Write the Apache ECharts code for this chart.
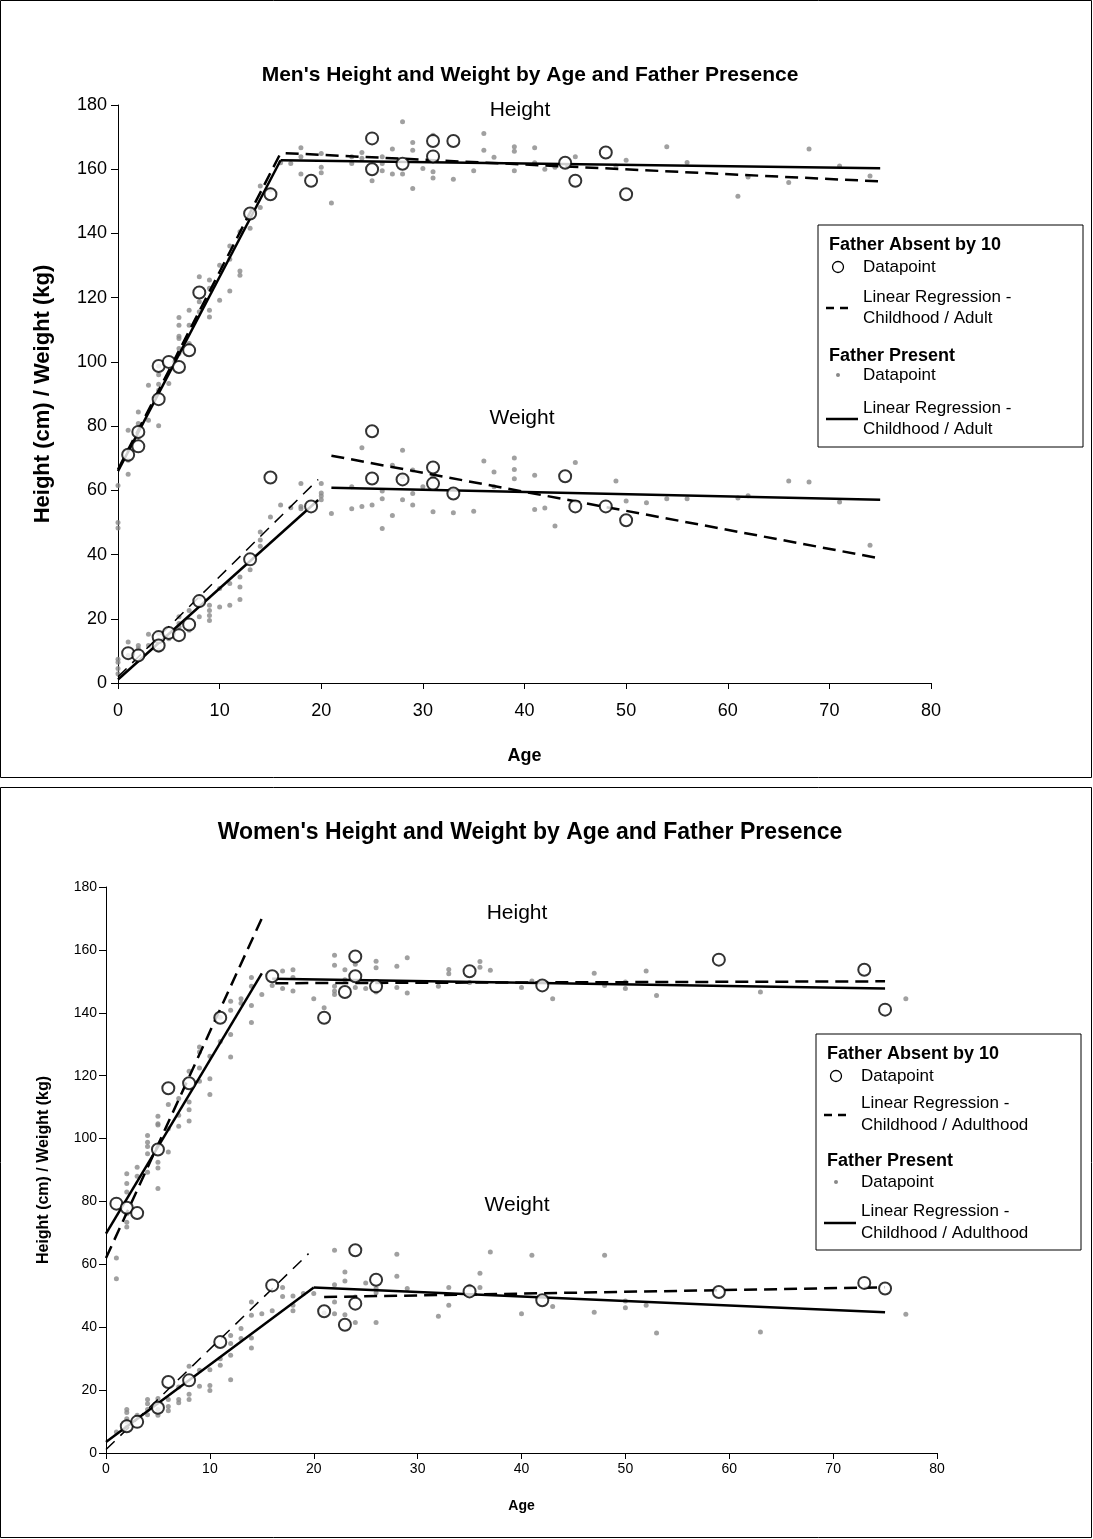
<!DOCTYPE html>
<html><head><meta charset="utf-8">
<script src="https://cdn.jsdelivr.net/npm/echarts@6/dist/echarts.min.js"></script>
<style>html,body{margin:0;padding:0;background:#fff}#c{width:1093px;height:1539px}</style>
</head><body><div id="c"></div>
<script>
// ---------- tick labels ----------
const xTicks = [0, 10, 20, 30, 40, 50, 60, 70, 80];
const yTicks = [0, 20, 40, 60, 80, 100, 120, 140, 160, 180];

// ---------- MEN ----------
const menHeightAbsent = [[1,71.1],[2,78.2],[2,73.7],[4,88.4],[4,98.7],[5,100],[6,98.4],[7,103.6],[8,121.6],[13,146.2],[15,152.2],[19,156.4],[25,169.6],[25,160],[28,161.7],[31,168.8],[31,164],[33,168.8],[44,162],[45,156.4],[48,165.2],[50,152.2]];
const menWeightAbsent = [[1,9.3],[2,8.6],[4,14.3],[4,11.7],[5,15.6],[6,14.9],[7,18.2],[8,25.5],[13,38.5],[15,64],[19,55],[25,78.4],[25,63.7],[28,63.4],[31,67.1],[31,62.1],[33,59],[44,64.4],[45,55],[48,55],[50,50.7]];
const menHeightPresent = [[0,61.5],[0,50],[0,48.3],[1,69.4],[1,65],[1,78.7],[2,84.4],[2,80.8],[2,76.6],[3,81.8],[3,92.7],[4,98.7],[4,93],[4,96],[4,91.2],[4,80.1],[5,93.3],[6,113.8],[6,111.4],[6,108],[6,107.3],[6,104.2],[6,102.6],[7,116.1],[7,111.4],[7,105.7],[8,126.5],[8,118.7],[8,115.6],[9,125.5],[9,122.9],[9,116.1],[9,114],[10,119.2],[10,130.1],[11,136.1],[11,132],[11,122.1],[12,140.5],[12,128.3],[12,127],[13,141.6],[14,154.8],[14,148.1],[15,153.5],[16,162],[17,161.8],[18,166.7],[18,163.9],[18,158.5],[20,164.9],[20,160.6],[20,158.9],[21,149.5],[23,163.9],[23,161.8],[24,165.2],[24,163.4],[25,156.4],[26,163.9],[26,161.8],[26,159.5],[27,166.3],[27,158.5],[28,174.8],[28,158.5],[29,168.3],[29,165.9],[29,154],[30,160.2],[31,170.6],[31,159.2],[31,157.3],[33,156.9],[35,159.5],[36,171.1],[36,165.9],[37,163.7],[39,167],[39,165.6],[39,159.5],[41,166.7],[41,162],[42,160],[43,160.6],[45,163.9],[49,161],[50,162.8],[54,167],[56,162.1],[61,151.6],[62,157.6],[66,155.9],[68,166.3],[71,161],[74,157.9]];
const menWeightPresent = [[0,7.4],[0,6.5],[0,4.5],[0,2.9],[1,12.8],[1,8.6],[2,11.7],[2,10.7],[3,15.2],[3,11.7],[4,15.4],[4,13.3],[4,10.2],[5,13.8],[6,20.6],[6,18.5],[6,17.5],[7,22.6],[7,16.4],[8,26.8],[8,20.6],[9,24.2],[9,22.6],[9,21],[9,19.5],[10,23.7],[10,29.4],[11,31],[11,24.2],[12,33],[12,29.9],[12,26],[13,35.3],[14,47],[14,44.5],[14,42.6],[15,51.7],[16,55.4],[17,54.6],[18,62.1],[18,55],[18,54.3],[20,62.1],[20,59.2],[20,58.2],[20,57.1],[21,52.8],[23,61.1],[23,54.3],[24,73.3],[24,55],[25,55.4],[26,59.8],[26,57.4],[26,48.1],[27,67.8],[27,52.2],[28,72.5],[28,64.2],[28,57.1],[29,66.3],[29,59],[29,55.4],[30,61.1],[31,64.2],[31,53.3],[33,53],[35,53.5],[36,69.1],[37,65.7],[37,61.1],[39,70.1],[39,66.5],[39,63.6],[41,64.7],[41,54],[42,54.5],[43,48.9],[45,68.7],[49,62.9],[50,56.7],[52,56.1],[54,57.4],[56,57.4],[61,57.6],[62,58.3],[66,62.9],[68,62.6],[71,56.4],[74,42.9]];
const menHeightAbsentChild = [[0,66.5],[16,165]];
const menHeightAbsentAdult = [[16.5,165],[75,156.2]];
const menHeightPresentChild = [[0,66],[16,162.8]];
const menHeightPresentAdult = [[16,162.8],[75,160.3]];
const menWeightAbsentChild = [[0,1.9],[19.7,63.4]];
const menWeightAbsentAdult = [[21,70.8],[75,38.8]];
const menWeightPresentChild = [[0,1.1],[19.7,57]];
const menWeightPresentAdult = [[21,60.8],[75,57.1]];

// ---------- WOMEN ----------
const womenHeightAbsent = [[1,79.3],[2,78],[3,76.3],[5,96.5],[6,116],[8,117.6],[11,138.4],[16,151.6],[21,138.4],[23,146.6],[24,157.9],[24,151.6],[26,148.4],[35,153.2],[42,148.7],[59,156.9],[73,153.7],[75,141]];
const womenWeightAbsent = [[2,8.5],[3,9.9],[5,14.4],[6,22.6],[8,23.1],[11,35.3],[16,53.3],[21,45.1],[23,40.8],[24,64.5],[24,47.5],[26,55.1],[35,51.4],[42,48.6],[59,51.2],[73,54.1],[75,52.3]];
const womenHeightPresent = [[1,62],[1,55.4],[2,85.7],[2,83],[2,76.1],[2,73.4],[2,71.9],[2,88.8],[3,88],[3,90.9],[4,89.3],[4,101],[4,98.8],[4,97.5],[4,95.2],[5,84.1],[5,107.1],[5,104.7],[5,104.3],[5,92.5],[5,90.6],[6,110.8],[6,103.1],[6,95.7],[7,112.7],[7,107.4],[7,103.9],[8,121.4],[8,111.6],[8,109.2],[8,105.6],[9,129.1],[9,127.5],[9,122.4],[9,118.2],[10,126.2],[10,119],[10,114],[11,138.6],[11,130.9],[12,143.7],[12,140.8],[12,133.1],[12,125.9],[13,144.5],[13,143],[14,151.2],[14,148.4],[14,142.3],[14,136.9],[15,145.8],[16,148.7],[17,153.3],[17,147.7],[18,153.7],[18,151.2],[18,146.9],[20,144.5],[21,141.6],[22,158.3],[22,155.1],[22,148.4],[22,146.9],[22,145.8],[23,153.7],[23,150.5],[24,155.4],[24,148],[25,147.7],[26,156.4],[26,154.3],[26,146.6],[28,154.8],[28,148],[29,157.5],[29,146.3],[32,148.4],[33,153.8],[33,152.4],[35,149.6],[36,156.3],[36,154.5],[37,153.5],[40,148],[41,150.1],[43,144.5],[47,152.6],[48,148.7],[50,149.8],[50,147.7],[52,153.3],[53,145.5],[63,146.6],[77,144.5]];
const womenWeightPresent = [[1,6.7],[2,13.8],[2,12.9],[2,10.9],[2,9.9],[2,8.3],[3,12],[4,17],[4,15.7],[4,13.8],[4,12.2],[5,17.3],[5,13.8],[5,12],[6,17],[6,14.8],[6,13.4],[7,21],[7,17],[7,16],[8,27.6],[8,18.7],[8,17],[9,26.3],[9,21.2],[10,26.5],[10,21.5],[10,19.9],[11,30],[11,27.9],[12,37.4],[12,34.8],[12,31.1],[12,23.3],[13,39.6],[13,36.4],[14,48],[14,43.8],[14,36.6],[14,33.4],[15,44.3],[16,45.2],[17,52.6],[17,49.8],[18,49.9],[18,47],[18,45.2],[19,50.7],[20,50.7],[21,44.5],[22,64.5],[22,53.5],[22,48],[22,44.3],[23,57.6],[23,54.7],[23,44],[24,49.6],[24,41.5],[25,54.1],[26,52.3],[26,51],[26,41.5],[28,63.2],[28,56.2],[29,52.3],[32,43.5],[33,52.6],[33,47],[35,53],[36,57.2],[36,52.6],[37,63.9],[40,44.3],[41,62.9],[43,46.6],[47,44.8],[48,62.9],[50,48.3],[50,46.2],[52,47],[53,38.2],[63,38.5],[77,44.1]];
const womenHeightAbsentChild = [[0,62],[15,170]];
const womenHeightAbsentAdult = [[16.3,149.4],[75,150]];
const womenHeightPresentChild = [[0,69.8],[15,152.5]];
const womenHeightPresentAdult = [[16,150.8],[75,147.7]];
const womenWeightAbsentChild = [[0,1.1],[19.5,63.4]];
const womenWeightAbsentAdult = [[21,49.6],[75,52.7]];
const womenWeightPresentChild = [[0,3.5],[20,52.6]];
const womenWeightPresentAdult = [[20,52.6],[75,44.8]];

// ---------- legend texts ----------
const legendMen = ['Father Absent by 10','Datapoint','Linear Regression -','Childhood / Adult','Father Present','Datapoint','Linear Regression -','Childhood / Adult'];
const legendWomen = ['Father Absent by 10','Datapoint','Linear Regression -','Childhood / Adulthood','Father Present','Datapoint','Linear Regression -','Childhood / Adulthood'];

const FONT = "'Liberation Sans', Arial, sans-serif";
const GRAY = '#888888';

function gray(data, idx, size) {
  return { type:'scatter', xAxisIndex:idx, yAxisIndex:idx, data, symbol:'circle', symbolSize:size,
    itemStyle:{color:GRAY}, z:2, silent:true };
}
function ring(data, idx) {
  return { type:'scatter', xAxisIndex:idx, yAxisIndex:idx, data, symbol:'emptyCircle', symbolSize:12,
    itemStyle:{color:'#000', borderColor:'#000', borderWidth:1.3}, z:4, silent:true };
}
function line(data, idx, dashed, w) {
  return { type:'line', xAxisIndex:idx, yAxisIndex:idx, data, showSymbol:false, symbol:'none',
    lineStyle:{color:'#000', width:w||2.5, type: dashed ? (dashed===true?[13,7]:dashed) : 'solid', cap:'butt'},
    z:3, silent:true, animation:false };
}
function axisX(gridIdx, fs, margin, nameSize, nameGap) {
  return { type:'value', gridIndex:gridIdx, min:0, max:80, interval:10,
    name:'Age', nameLocation:'middle', nameGap,
    nameTextStyle:{fontFamily:FONT, fontWeight:'bold', fontSize:nameSize, color:'#000'},
    axisLine:{show:true, onZero:false, lineStyle:{color:'#000', width:1}},
    axisTick:{show:true, length:6, lineStyle:{color:'#000'}},
    axisLabel:{fontFamily:FONT, fontSize:fs, color:'#000', margin,
      formatter: v => xTicks.indexOf(v) >= 0 ? String(v) : ''},
    splitLine:{show:false} };
}
function axisY(gridIdx, fs, margin, nameSize, nameGap) {
  return { type:'value', gridIndex:gridIdx, min:0, max:180, interval:20,
    name:'Height (cm) / Weight (kg)', nameLocation:'middle', nameGap, nameRotate:90,
    nameTextStyle:{fontFamily:FONT, fontWeight:'bold', fontSize:nameSize, color:'#000'},
    axisLine:{show:true, onZero:false, lineStyle:{color:'#000', width:1}},
    axisTick:{show:true, length:7, lineStyle:{color:'#000'}},
    axisLabel:{fontFamily:FONT, fontSize:fs, color:'#000', margin,
      formatter: v => yTicks.indexOf(v) >= 0 ? String(v) : ''},
    splitLine:{show:false} };
}

function legendGraphic(x0, y0, w, h, texts, hs, fs, rows) {
  const els = [];
  els.push({type:'rect', shape:{x:x0, y:y0, width:w, height:h}, style:{fill:'#fff', stroke:'#000', lineWidth:1}, z:10});
  const tx = x0 + 45, hx = x0 + 11;
  const T = (x, y, t, bold) => ({type:'text', x, y, style:{text:t, fontFamily:FONT, fontWeight:bold?'bold':'normal', fontSize:bold?hs:fs, fill:'#000', verticalAlign:'middle'}, z:11});
  els.push(T(hx, y0+rows[0], texts[0], true));
  els.push({type:'circle', shape:{cx:x0+20, cy:y0+rows[1], r:5.5}, style:{fill:'none', stroke:'#000', lineWidth:1.3}, z:11});
  els.push(T(tx, y0+rows[1], texts[1]));
  els.push({type:'line', shape:{x1:x0+8, y1:y0+rows[3]-10, x2:x0+34, y2:y0+rows[3]-10}, style:{stroke:'#000', lineWidth:2.5, lineDash:[8,6]}, z:11});
  els.push(T(tx, y0+rows[2], texts[2]));
  els.push(T(tx, y0+rows[3], texts[3]));
  els.push(T(hx, y0+rows[4], texts[4], true));
  els.push({type:'circle', shape:{cx:x0+20, cy:y0+rows[5], r:2}, style:{fill:GRAY}, z:11});
  els.push(T(tx, y0+rows[5], texts[5]));
  els.push({type:'line', shape:{x1:x0+8, y1:y0+rows[7]-10, x2:x0+40, y2:y0+rows[7]-10}, style:{stroke:'#000', lineWidth:2.5}, z:11});
  els.push(T(tx, y0+rows[6], texts[6]));
  els.push(T(tx, y0+rows[7], texts[7]));
  return els;
}

const chart = echarts.init(document.getElementById('c'), null, {renderer:'canvas'});
const option = {
  animation:false,
  backgroundColor:'#fff',
  title:[
    {text:"Men's Height and Weight by Age and Father Presence", left:525, top:60, textAlign:'center',
     textStyle:{fontFamily:FONT, fontWeight:'bold', fontSize:21, color:'#000'}},
    {text:"Women's Height and Weight by Age and Father Presence", left:525, top:816, textAlign:'center',
     textStyle:{fontFamily:FONT, fontWeight:'bold', fontSize:23, color:'#000'}}
  ],
  grid:[
    {left:118, top:105, width:813, height:578},
    {left:106, top:887, width:831, height:566}
  ],
  xAxis:[ axisX(0,18,19,18,64), axisX(1,14,9,14,46) ],
  yAxis:[ axisY(0,18,11,22,64), axisY(1,14,9,16,54) ],
  series:[
    gray(menHeightPresent,0,5), gray(menWeightPresent,0,5),
    line(menHeightPresentChild,0,false), line(menHeightPresentAdult,0,false),
    line(menWeightPresentChild,0,false), line(menWeightPresentAdult,0,false),
    line(menHeightAbsentChild,0,true), line(menHeightAbsentAdult,0,true),
    line(menWeightAbsentChild,0,[12,8],1.5), line(menWeightAbsentAdult,0,true),
    ring(menHeightAbsent,0), ring(menWeightAbsent,0),

    gray(womenHeightPresent,1,5), gray(womenWeightPresent,1,5),
    line(womenHeightPresentChild,1,false), line(womenHeightPresentAdult,1,false),
    line(womenWeightPresentChild,1,false), line(womenWeightPresentAdult,1,false),
    line(womenHeightAbsentChild,1,true), line(womenHeightAbsentAdult,1,true),
    line(womenWeightAbsentChild,1,[12,8],1.5), line(womenWeightAbsentAdult,1,true),
    ring(womenHeightAbsent,1), ring(womenWeightAbsent,1)
  ],
  graphic:[
    {type:'rect', shape:{x:0.5, y:0.5, width:1091, height:777}, style:{fill:'none', stroke:'#000', lineWidth:1}, z:0},
    {type:'rect', shape:{x:0.5, y:787.5, width:1091, height:750}, style:{fill:'none', stroke:'#000', lineWidth:1}, z:0},
    {type:'text', x:520, y:110, style:{text:'Height', fontFamily:FONT, fontSize:21, fill:'#000', align:'center', verticalAlign:'middle'}},
    {type:'text', x:522, y:418, style:{text:'Weight', fontFamily:FONT, fontSize:21, fill:'#000', align:'center', verticalAlign:'middle'}},
    {type:'text', x:517, y:913, style:{text:'Height', fontFamily:FONT, fontSize:21, fill:'#000', align:'center', verticalAlign:'middle'}},
    {type:'text', x:517, y:1205, style:{text:'Weight', fontFamily:FONT, fontSize:21, fill:'#000', align:'center', verticalAlign:'middle'}},
    ...legendGraphic(818, 225, 265, 222, legendMen, 18, 17, [20, 42, 72, 93, 131, 150, 183, 204]),
    ...legendGraphic(816, 1034, 265, 216, legendWomen, 18, 17, [20, 42, 69, 91, 127, 148, 177, 199])
  ]
};
chart.setOption(option);
</script>
</body></html>
